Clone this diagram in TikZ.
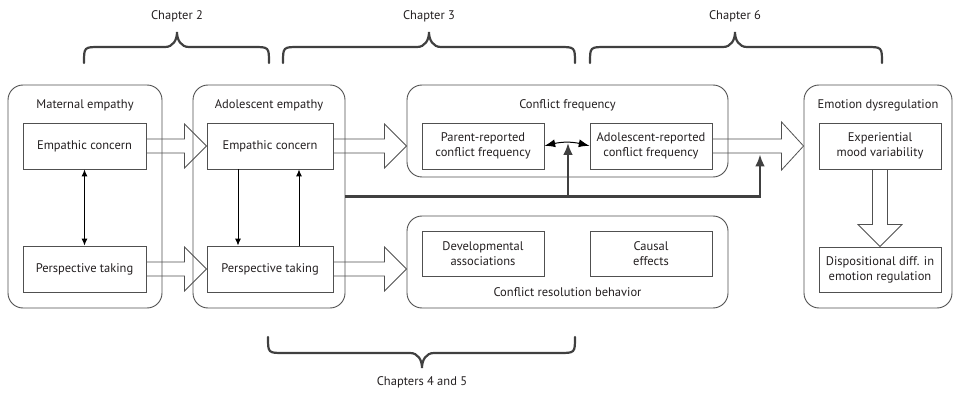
\documentclass[tikz,border=0pt]{standalone}
\usepackage{fontspec}
\setmainfont{PT Sans}
\usetikzlibrary{arrows.meta,calc,bending}
\definecolor{ln}{HTML}{505050}
\definecolor{txt}{HTML}{231F20}
\definecolor{thk}{HTML}{404040}
\tikzset{
  outerbox/.style={draw=ln,line width=0.9pt,rounded corners=15pt,inner sep=0pt},
  innerbox/.style={draw=ln,line width=0.9pt,inner sep=0pt,align=center,font=\fontsize{12.5}{15}\selectfont,text=txt},
  lbl/.style={font=\fontsize{12.5}{15}\selectfont,text=txt,inner sep=0pt},
  hollow/.style={draw=ln,line width=0.8pt,line join=miter},
  thin arrow/.style={draw=black,line width=0.9pt,-{Latex[length=7pt,width=6pt]}},
  thick arrow/.style={draw=thk,line width=2.6pt,-{Latex[length=12pt,width=10pt]}},
  bracestyle/.style={draw=thk,line width=2.2pt,line cap=round}
}
\newcommand{\hollowright}[2]{%
  \draw[hollow] ($(#1)+(0,-7)$) -- ($(#2)+(-22,-7)$) -- ($(#2)+(-22,-22)$) -- (#2)
    -- ($(#2)+(-22,22)$) -- ($(#2)+(-22,7)$) -- ($(#1)+(0,7)$);}
\newcommand{\topbrace}[3]{%
  \draw[bracestyle] (#1,63) .. controls (#1,47) .. ({#1+16},47) -- ({#3-12},47)
    .. controls ({#3-4},47) and (#3,40) .. (#3,32)
    .. controls (#3,40) and ({#3+4},47) .. ({#3+12},47) -- ({#2-16},47)
    .. controls (#2,47) .. (#2,63);}
\begin{document}
\begin{tikzpicture}[x=1pt,y=-1pt]
\useasboundingbox (0,0) rectangle (954,393);
% outer boxes
\node[outerbox,minimum width=154pt,minimum height=223pt] (mat) at (85,196.5) {};
\node[outerbox,minimum width=152pt,minimum height=223pt] (ado) at (269,196.5) {};
\node[outerbox,minimum width=321pt,minimum height=92pt] (cf) at (567.5,131) {};
\node[outerbox,minimum width=321pt,minimum height=92pt] (cr) at (567.5,262) {};
\node[outerbox,minimum width=148pt,minimum height=223pt] (emo) at (878,196.5) {};
% labels
\node[lbl] (matlbl) at (85,105) {Maternal empathy};
\node[lbl] (adolbl) at (269,105) {Adolescent empathy};
\node[lbl] (cflbl) at (567.5,105) {Conflict frequency};
\node[lbl] (crlbl) at (567.5,292) {Conflict resolution behavior};
\node[lbl] (emolbl) at (878,105) {Emotion dysregulation};
% inner boxes
\node[innerbox,minimum width=123pt,minimum height=46pt] (matEC) at (84.5,146) {Empathic concern};
\node[innerbox,minimum width=123pt,minimum height=46pt] (matPT) at (84.5,269) {Perspective taking};
\node[innerbox,minimum width=126pt,minimum height=46pt] (adoEC) at (270,146) {Empathic concern};
\node[innerbox,minimum width=126pt,minimum height=46pt] (adoPT) at (270,269) {Perspective taking};
\node[innerbox,minimum width=122pt,minimum height=46pt] (par) at (483,146) {Parent-reported\\conflict frequency};
\node[innerbox,minimum width=122pt,minimum height=46pt] (adr) at (651,146) {Adolescent-reported\\conflict frequency};
\node[innerbox,minimum width=122pt,minimum height=45pt] (dev) at (483,253.5) {Developmental\\associations};
\node[innerbox,minimum width=122pt,minimum height=45pt] (cau) at (651,253.5) {Causal\\effects};
\node[innerbox,minimum width=122pt,minimum height=46pt] (exp) at (880,146) {Experiential\\mood variability};
\node[innerbox,minimum width=122pt,minimum height=45pt] (dis) at (880,269.5) {Dispositional diff. in\\emotion regulation};
% hollow arrows
\coordinate (cfin) at (cf.west |- adoEC.east);
\coordinate (crin) at (cr.west |- adoPT.east);
\coordinate (emoin) at (emo.west |- adr.east);
\hollowright{matEC.east}{adoEC.west}
\hollowright{matPT.east}{adoPT.west}
\hollowright{adoEC.east}{cfin}
\hollowright{adoPT.east}{crin}
\draw[hollow] ($(adr.east)+(0,-7)$) -- ($(emoin)+(-22,-7)$) -- ($(emoin)+(-22,-24)$) -- (emoin)
    -- ($(emoin)+(-22,24)$) -- ($(emoin)+(-22,7)$) -- ($(adr.east)+(0,7)$);
\draw[hollow] ($(exp.south)+(-7.5,0)$) -- ($(dis.north)+(-7.5,-22)$) -- ($(dis.north)+(-22,-22)$) -- (dis.north)
    -- ($(dis.north)+(22,-22)$) -- ($(dis.north)+(7.5,-22)$) -- ($(exp.south)+(7.5,0)$);
% thin arrows
\draw[thin arrow,{Latex[length=7pt,width=6pt]}-{Latex[length=7pt,width=6pt]}] (matEC) -- (matPT);
\draw[thin arrow] ([xshift=-32pt]adoEC.south) -- ([xshift=-32pt]adoPT.north);
\draw[thin arrow] ([xshift=29pt]adoPT.north) -- ([xshift=29pt]adoEC.south);
\draw[draw=black,line width=1pt,{Latex[length=11pt,width=8pt,bend]}-{Latex[length=11pt,width=8pt,bend]}] (par.east) to[bend left=17] (adr.west);
% thick arrows
\coordinate (apex) at (568,143);
\coordinate (hb) at (760,154.5);
\draw[thick arrow] (ado.east) -| (apex);
\draw[thick arrow] (ado.east) -| (hb);
% braces
\topbrace{84}{269}{177}
\topbrace{283}{575}{429}
\topbrace{590}{882}{735}
\draw[bracestyle] (268,337) .. controls (268,353) .. (284,353) -- (410,353)
    .. controls (418,353) and (422,360) .. (422,368)
    .. controls (422,360) and (426,353) .. (434,353) -- (559,353)
    .. controls (575,353) .. (575,337);
\node[lbl] (ch2) at (177,16) {Chapter 2};
\node[lbl] (ch3) at (429,16) {Chapter 3};
\node[lbl] (ch6) at (735,16) {Chapter 6};
\node[lbl] (ch45) at (422,382) {Chapters 4 and 5};
\end{tikzpicture}
\end{document}
